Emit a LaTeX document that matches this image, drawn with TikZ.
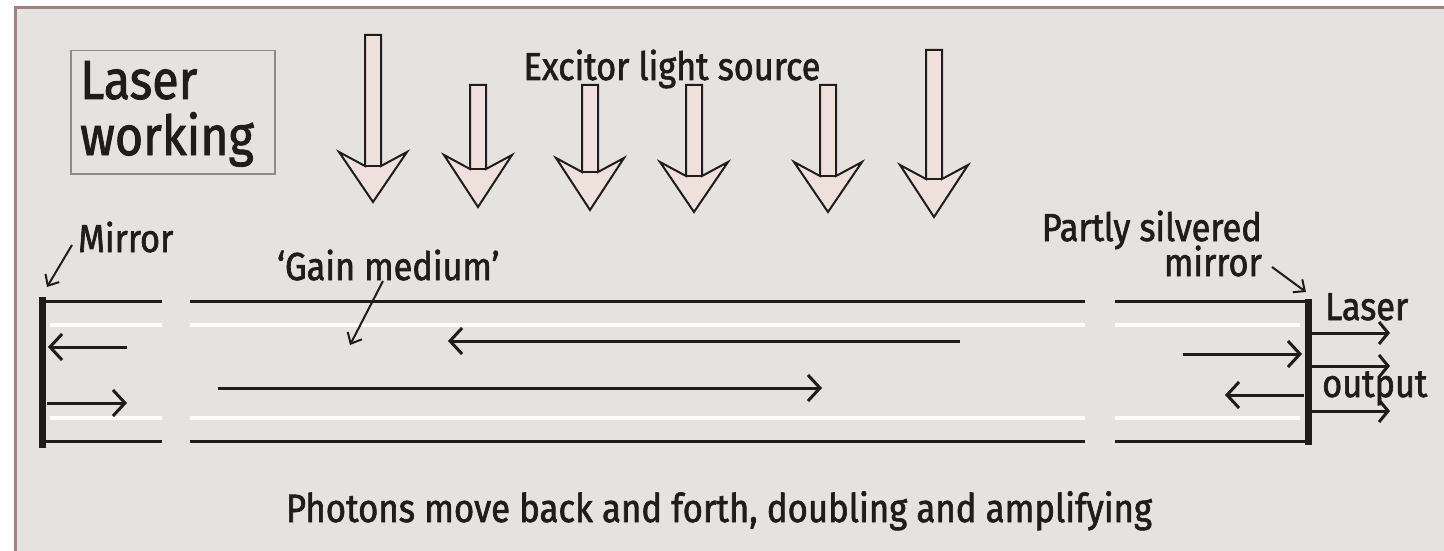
\documentclass[tikz,border=0pt]{standalone}
\usepackage{fontspec}
\setmainfont[FakeStretch=0.88, FakeBold=1.6]{Fira Sans}
\usetikzlibrary{arrows.meta}
\definecolor{bg}{RGB}{229,226,224}
\definecolor{framec}{RGB}{160,130,130}
\definecolor{ink}{RGB}{30,28,28}
\definecolor{shaftfill}{RGB}{240,224,220}
\definecolor{boxgray}{RGB}{140,140,140}
\newcommand\excarrow[6]{%
  \filldraw[excshape] ({#1-#3},#2) -- ({#1-#3},{#4+14}) -- ({#1-#5},#4) -- (#1,#6) -- ({#1+#5},#4) -- ({#1+#3},{#4+14}) -- ({#1+#3},#2) -- cycle;
  \draw[excshape] ({#1-#3},{#4+14}) -- ({#1+#3},{#4+14});
}
\begin{document}
\begin{tikzpicture}[x=1pt,y=-1pt,
  >={Straight Barb[length=12pt,width=26pt]},
  excshape/.style={fill=shaftfill, draw=ink, line width=2pt, line join=miter},
  tube/.style={ink, line width=3pt},
  gloss/.style={white, line width=4pt},
  mirrorline/.style={ink, line width=7pt},
  beam/.style={ink, line width=3pt, ->},
  pointer/.style={ink, line width=2pt, -{Straight Barb[length=9pt,width=16pt]}},
  label/.style={font=\fontsize{39}{40}\selectfont, text=ink, inner sep=0pt},
  title/.style={font=\fontsize{55}{56}\selectfont, text=ink, inner sep=0pt}]
\useasboundingbox (0,0) rectangle (1444,551);
\fill[white] (0,0) rectangle (1444,551);
\fill[bg] (15,8) rectangle (1444,551);
\draw[framec, line width=3pt] (15,551) -- (15,8) -- (1444,8);

% title box
\node[draw=boxgray, line width=1.5pt, minimum width=204pt, minimum height=123pt, anchor=north west, inner sep=0pt] (titlebox) at (70,50) {};
\node[title, anchor=base west] (t1) at (80,99) {Laser};
\node[title, anchor=base west] (t2) at (80,155) {working};

% excitor arrows
\excarrow{373}{35}{8}{152}{34}{202}
\excarrow{478}{85}{8}{155}{34}{207}
\excarrow{590}{85}{8}{158}{34}{210}
\excarrow{694}{85}{8}{162}{34}{212}
\excarrow{828}{85}{8}{162}{34}{212}
\excarrow{934}{50}{8}{165}{34}{217}
\node[label, anchor=base] (exc) at (672,80) {Excitor light source};

% tube
\coordinate (ta1) at (42,301); \coordinate (tb1) at (162,301);
\coordinate (ta2) at (190,301); \coordinate (tb2) at (1085,301);
\coordinate (ta3) at (1115,301); \coordinate (tb3) at (1308,301);
\coordinate (ba1) at (42,441); \coordinate (bb1) at (162,441);
\coordinate (ba2) at (190,441); \coordinate (bb2) at (1085,441);
\coordinate (ba3) at (1115,441); \coordinate (bb3) at (1308,441);
\coordinate (ga1) at (50,325); \coordinate (gb1) at (162,325);
\coordinate (ga2) at (190,325); \coordinate (gb2) at (1085,325);
\coordinate (ga3) at (1115,325); \coordinate (gb3) at (1300,325);
\coordinate (ha1) at (50,418); \coordinate (hb1) at (162,418);
\coordinate (ha2) at (190,418); \coordinate (hb2) at (1085,418);
\coordinate (ha3) at (1115,418); \coordinate (hb3) at (1300,418);
\draw[gloss] (ga1) -- (gb1) (ga2) -- (gb2) (ga3) -- (gb3);
\draw[gloss] (ha1) -- (hb1) (ha2) -- (hb2) (ha3) -- (hb3);
\draw[tube] (ta1) -- (tb1) (ta2) -- (tb2) (ta3) -- (tb3);
\draw[tube] (ba1) -- (bb1) (ba2) -- (bb2) (ba3) -- (bb3);
\coordinate (ml1) at (42,297); \coordinate (ml2) at (42,448);
\coordinate (mr1) at (1308,299); \coordinate (mr2) at (1308,445);
\draw[mirrorline] (ml1) -- (ml2);
\draw[mirrorline] (mr1) -- (mr2);

% beams
\coordinate (a1s) at (127,347); \coordinate (a1e) at (48,347);
\coordinate (a2s) at (47,403); \coordinate (a2e) at (127,403);
\coordinate (a3s) at (960,341); \coordinate (a3e) at (448,341);
\coordinate (a4s) at (218,388); \coordinate (a4e) at (822,388);
\coordinate (a5s) at (1183,354); \coordinate (a5e) at (1302,354);
\coordinate (a6s) at (1304,395); \coordinate (a6e) at (1225,395);
\draw[beam] (a1s) -- (a1e);
\draw[beam] (a2s) -- (a2e);
\draw[beam] (a3s) -- (a3e);
\draw[beam] (a4s) -- (a4e);
\draw[beam] (a5s) -- (a5e);
\draw[beam] (a6s) -- (a6e);
\coordinate (o1s) at (1312,333); \coordinate (o1e) at (1390,333);
\coordinate (o2s) at (1312,366); \coordinate (o2e) at (1390,366);
\coordinate (o3s) at (1312,411); \coordinate (o3e) at (1390,411);
\draw[beam, -{Straight Barb[length=9pt,width=22pt]}] (o1s) -- (o1e);
\draw[beam, -{Straight Barb[length=9pt,width=22pt]}] (o2s) -- (o2e);
\draw[beam, -{Straight Barb[length=9pt,width=22pt]}] (o3s) -- (o3e);

% labels
\node[label, anchor=base west] (mirror) at (78,252) {Mirror};
\coordinate (pm1) at (72,245); \coordinate (pm2) at (47,287);
\draw[pointer] (pm1) -- (pm2);
\node[label, anchor=base west] (gain) at (277,280) {‘Gain medium’};
\coordinate (pg1) at (383,281); \coordinate (pg2) at (350,345);
\draw[pointer] (pg1) -- (pg2);
\node[label, anchor=base east] (ps1) at (1262,241) {Partly silvered};
\node[label, anchor=base east] (ps2) at (1262,276) {mirror};
\coordinate (pp1) at (1272,267); \coordinate (pp2) at (1306,292);
\draw[pointer] (pp1) -- (pp2);
\node[label, anchor=base west] (lo1) at (1325,320) {Laser};
\node[label, anchor=base west] (lo2) at (1322,397) {output};
\node[label, font=\fontsize{39.5}{40}\selectfont, anchor=base] (caption) at (719,522) {Photons move back and forth, doubling and amplifying};
\end{tikzpicture}
\end{document}
